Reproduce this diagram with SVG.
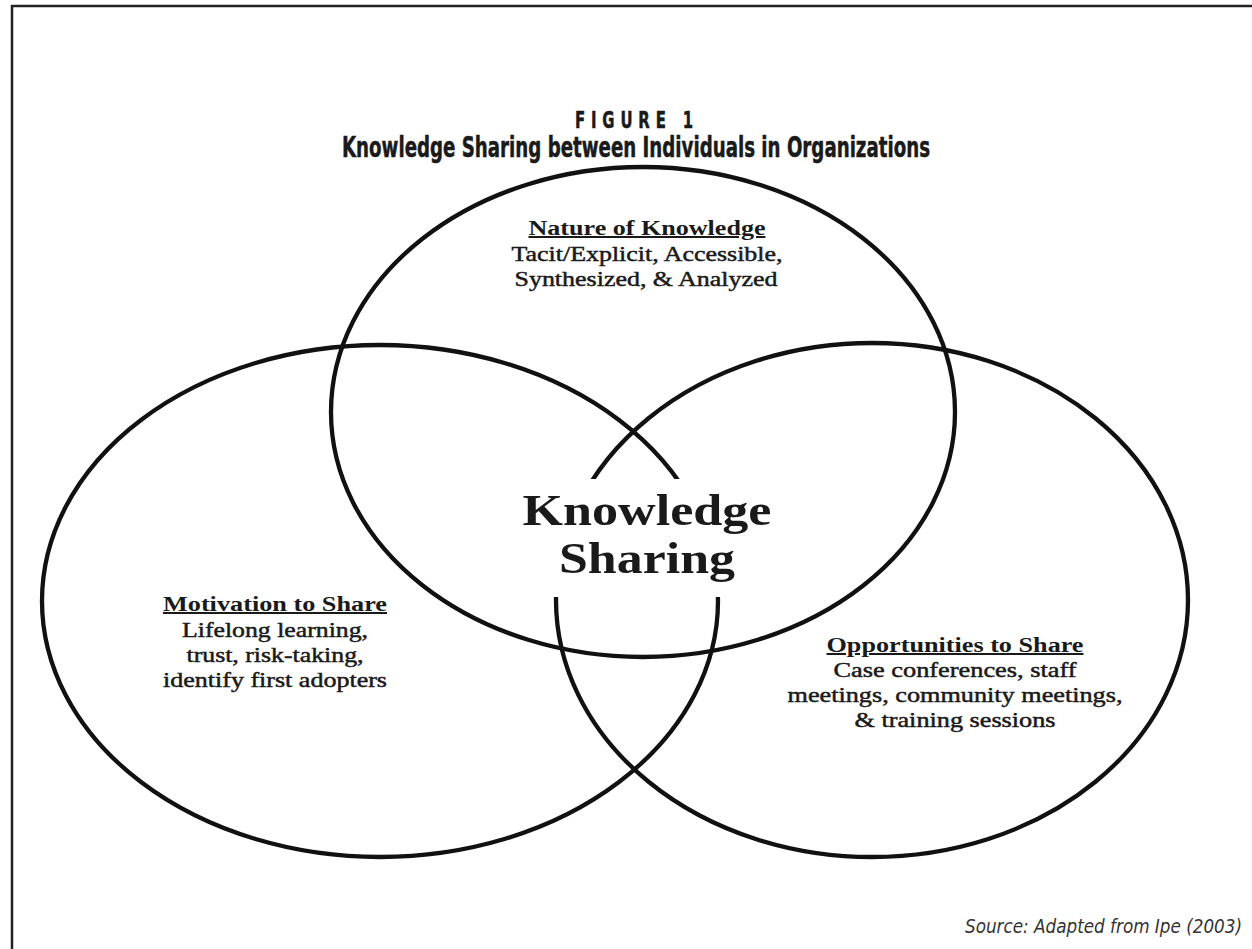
<svg xmlns="http://www.w3.org/2000/svg" width="1252" height="949" viewBox="0 0 1252 949">
<style>
.ring{fill:none;stroke:#111;stroke-width:4.3}
.ttl{font-family:"Liberation Sans Narrow","DejaVu Sans Condensed","Liberation Sans",sans-serif;font-weight:bold;fill:#1a1a1a;stroke:#1a1a1a;stroke-width:0.5;text-anchor:middle}
.hd{font-family:"Liberation Serif","DejaVu Serif",serif;font-weight:bold;font-size:20px;fill:#1a1a1a;text-anchor:middle;text-decoration:underline}
.bd{font-family:"Liberation Serif","DejaVu Serif",serif;font-size:20px;fill:#1a1a1a;stroke:#1a1a1a;stroke-width:0.45;text-anchor:middle}
.big{font-family:"Liberation Serif","DejaVu Serif",serif;font-weight:bold;font-size:45px;fill:#1a1a1a;text-anchor:middle}
.src{font-family:"Liberation Sans Narrow","DejaVu Sans Condensed","Liberation Sans",sans-serif;font-style:italic;font-size:19px;fill:#333}
</style>
<rect width="1252" height="949" fill="#fff"/>
<path d="M12,949 V6 H1252" fill="none" stroke="#222" stroke-width="2.5"/>
<g id="title">
<text class="ttl" transform="translate(634,128) scale(0.72,1)" x="0" y="0" font-size="23" textLength="164" lengthAdjust="spacing">FIGURE 1</text>
<text class="ttl" x="636" y="157" font-size="28" textLength="588" lengthAdjust="spacingAndGlyphs">Knowledge Sharing between Individuals in Organizations</text>
</g>
<g id="motivation">
<ellipse class="ring" cx="380" cy="601" rx="338" ry="256"/>
</g>
<g id="opportunities">
<ellipse class="ring" cx="872" cy="600" rx="316" ry="257"/>
</g>
<rect x="545" y="479" width="185" height="118" fill="#fff"/>
<g id="nature">
<ellipse class="ring" cx="643" cy="412" rx="312" ry="245"/>
<text class="hd" x="647" y="235" textLength="237" lengthAdjust="spacingAndGlyphs">Nature of Knowledge</text>
<text class="bd" x="647" y="261" textLength="271" lengthAdjust="spacingAndGlyphs">Tacit/Explicit, Accessible,</text>
<text class="bd" x="646" y="286" textLength="263" lengthAdjust="spacingAndGlyphs">Synthesized, &amp; Analyzed</text>
</g>
<g id="motivation-text">
<text class="hd" x="275" y="611" textLength="224" lengthAdjust="spacingAndGlyphs">Motivation to Share</text>
<text class="bd" x="275" y="637" textLength="186" lengthAdjust="spacingAndGlyphs">Lifelong learning,</text>
<text class="bd" x="275" y="662" textLength="177" lengthAdjust="spacingAndGlyphs">trust, risk-taking,</text>
<text class="bd" x="275" y="687" textLength="224" lengthAdjust="spacingAndGlyphs">identify first adopters</text>
</g>
<g id="opportunities-text">
<text class="hd" x="955" y="652" textLength="257" lengthAdjust="spacingAndGlyphs">Opportunities to Share</text>
<text class="bd" x="955" y="677" textLength="243" lengthAdjust="spacingAndGlyphs">Case conferences, staff</text>
<text class="bd" x="955" y="702" textLength="335" lengthAdjust="spacingAndGlyphs">meetings, community meetings,</text>
<text class="bd" x="955" y="727" textLength="201" lengthAdjust="spacingAndGlyphs">&amp; training sessions</text>
</g>
<g id="knowledge-sharing">
<text class="big" x="647" y="525" textLength="249" lengthAdjust="spacingAndGlyphs">Knowledge</text>
<text class="big" x="647" y="573" textLength="176" lengthAdjust="spacingAndGlyphs">Sharing</text>
</g>
<g id="source">
<text class="src" x="1242" y="933" text-anchor="end" textLength="277" lengthAdjust="spacingAndGlyphs">Source: Adapted from Ipe (2003)</text>
</g>
</svg>
